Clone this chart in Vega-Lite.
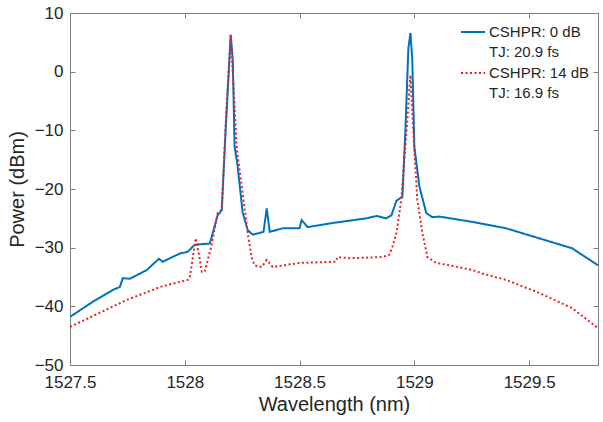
{
  "$schema": "https://vega.github.io/schema/vega-lite/v6.json",
  "width": 528,
  "height": 352,
  "autosize": {"type": "none"},
  "padding": {"left": 70, "top": 13, "right": 5, "bottom": 57},
  "background": "white",
  "config": {
    "font": "Liberation Sans",
    "view": {"stroke": "#7f7f7f", "strokeWidth": 1},
    "style": {"guide-label": {"lineHeight": 20}},
    "axis": {
      "grid": false,
      "domainColor": "#7f7f7f",
      "tickColor": "#7f7f7f",
      "tickSize": -5,
      "labelColor": "#262626",
      "titleColor": "#262626",
      "labelFont": "Liberation Sans",
      "titleFont": "Liberation Sans",
      "labelFontSize": 17,
      "titleFontSize": 20,
      "titleFontWeight": "normal"
    },
    "legend": {
      "labelFont": "Liberation Sans",
      "labelFontSize": 15,
      "labelColor": "#262626"
    }
  },
  "data": {
    "values": [
      {"s": "CSHPR: 0 dB|TJ: 20.9 fs", "wl": 1527.500, "p": -41.8},
      {"s": "CSHPR: 0 dB|TJ: 20.9 fs", "wl": 1527.600, "p": -39.2},
      {"s": "CSHPR: 0 dB|TJ: 20.9 fs", "wl": 1527.687, "p": -37.2},
      {"s": "CSHPR: 0 dB|TJ: 20.9 fs", "wl": 1527.717, "p": -36.7},
      {"s": "CSHPR: 0 dB|TJ: 20.9 fs", "wl": 1527.730, "p": -35.2},
      {"s": "CSHPR: 0 dB|TJ: 20.9 fs", "wl": 1527.761, "p": -35.3},
      {"s": "CSHPR: 0 dB|TJ: 20.9 fs", "wl": 1527.835, "p": -33.8},
      {"s": "CSHPR: 0 dB|TJ: 20.9 fs", "wl": 1527.887, "p": -31.9},
      {"s": "CSHPR: 0 dB|TJ: 20.9 fs", "wl": 1527.904, "p": -32.4},
      {"s": "CSHPR: 0 dB|TJ: 20.9 fs", "wl": 1527.978, "p": -31.0},
      {"s": "CSHPR: 0 dB|TJ: 20.9 fs", "wl": 1528.013, "p": -30.7},
      {"s": "CSHPR: 0 dB|TJ: 20.9 fs", "wl": 1528.043, "p": -29.5},
      {"s": "CSHPR: 0 dB|TJ: 20.9 fs", "wl": 1528.109, "p": -29.3},
      {"s": "CSHPR: 0 dB|TJ: 20.9 fs", "wl": 1528.143, "p": -24.5},
      {"s": "CSHPR: 0 dB|TJ: 20.9 fs", "wl": 1528.161, "p": -23.6},
      {"s": "CSHPR: 0 dB|TJ: 20.9 fs", "wl": 1528.178, "p": -10.0},
      {"s": "CSHPR: 0 dB|TJ: 20.9 fs", "wl": 1528.200, "p": 6.3},
      {"s": "CSHPR: 0 dB|TJ: 20.9 fs", "wl": 1528.209, "p": 2.0},
      {"s": "CSHPR: 0 dB|TJ: 20.9 fs", "wl": 1528.217, "p": -12.8},
      {"s": "CSHPR: 0 dB|TJ: 20.9 fs", "wl": 1528.230, "p": -16.0},
      {"s": "CSHPR: 0 dB|TJ: 20.9 fs", "wl": 1528.252, "p": -24.0},
      {"s": "CSHPR: 0 dB|TJ: 20.9 fs", "wl": 1528.274, "p": -27.0},
      {"s": "CSHPR: 0 dB|TJ: 20.9 fs", "wl": 1528.296, "p": -27.8},
      {"s": "CSHPR: 0 dB|TJ: 20.9 fs", "wl": 1528.326, "p": -27.5},
      {"s": "CSHPR: 0 dB|TJ: 20.9 fs", "wl": 1528.343, "p": -27.3},
      {"s": "CSHPR: 0 dB|TJ: 20.9 fs", "wl": 1528.357, "p": -23.3},
      {"s": "CSHPR: 0 dB|TJ: 20.9 fs", "wl": 1528.370, "p": -27.3},
      {"s": "CSHPR: 0 dB|TJ: 20.9 fs", "wl": 1528.426, "p": -26.7},
      {"s": "CSHPR: 0 dB|TJ: 20.9 fs", "wl": 1528.500, "p": -26.7},
      {"s": "CSHPR: 0 dB|TJ: 20.9 fs", "wl": 1528.509, "p": -25.3},
      {"s": "CSHPR: 0 dB|TJ: 20.9 fs", "wl": 1528.535, "p": -26.5},
      {"s": "CSHPR: 0 dB|TJ: 20.9 fs", "wl": 1528.643, "p": -25.8},
      {"s": "CSHPR: 0 dB|TJ: 20.9 fs", "wl": 1528.791, "p": -25.0},
      {"s": "CSHPR: 0 dB|TJ: 20.9 fs", "wl": 1528.835, "p": -24.6},
      {"s": "CSHPR: 0 dB|TJ: 20.9 fs", "wl": 1528.878, "p": -25.0},
      {"s": "CSHPR: 0 dB|TJ: 20.9 fs", "wl": 1528.900, "p": -24.5},
      {"s": "CSHPR: 0 dB|TJ: 20.9 fs", "wl": 1528.922, "p": -22.0},
      {"s": "CSHPR: 0 dB|TJ: 20.9 fs", "wl": 1528.948, "p": -21.3},
      {"s": "CSHPR: 0 dB|TJ: 20.9 fs", "wl": 1528.961, "p": -10.0},
      {"s": "CSHPR: 0 dB|TJ: 20.9 fs", "wl": 1528.974, "p": 4.0},
      {"s": "CSHPR: 0 dB|TJ: 20.9 fs", "wl": 1528.983, "p": 6.6},
      {"s": "CSHPR: 0 dB|TJ: 20.9 fs", "wl": 1528.991, "p": 2.0},
      {"s": "CSHPR: 0 dB|TJ: 20.9 fs", "wl": 1529.000, "p": -12.8},
      {"s": "CSHPR: 0 dB|TJ: 20.9 fs", "wl": 1529.022, "p": -19.6},
      {"s": "CSHPR: 0 dB|TJ: 20.9 fs", "wl": 1529.052, "p": -24.1},
      {"s": "CSHPR: 0 dB|TJ: 20.9 fs", "wl": 1529.078, "p": -24.8},
      {"s": "CSHPR: 0 dB|TJ: 20.9 fs", "wl": 1529.109, "p": -24.7},
      {"s": "CSHPR: 0 dB|TJ: 20.9 fs", "wl": 1529.252, "p": -25.6},
      {"s": "CSHPR: 0 dB|TJ: 20.9 fs", "wl": 1529.400, "p": -26.7},
      {"s": "CSHPR: 0 dB|TJ: 20.9 fs", "wl": 1529.543, "p": -28.4},
      {"s": "CSHPR: 0 dB|TJ: 20.9 fs", "wl": 1529.687, "p": -30.1},
      {"s": "CSHPR: 0 dB|TJ: 20.9 fs", "wl": 1529.800, "p": -33.0},
      {"s": "CSHPR: 14 dB|TJ: 16.9 fs", "wl": 1527.500, "p": -43.5},
      {"s": "CSHPR: 14 dB|TJ: 16.9 fs", "wl": 1527.748, "p": -38.9},
      {"s": "CSHPR: 14 dB|TJ: 16.9 fs", "wl": 1527.900, "p": -36.6},
      {"s": "CSHPR: 14 dB|TJ: 16.9 fs", "wl": 1528.013, "p": -35.5},
      {"s": "CSHPR: 14 dB|TJ: 16.9 fs", "wl": 1528.022, "p": -35.0},
      {"s": "CSHPR: 14 dB|TJ: 16.9 fs", "wl": 1528.048, "p": -28.4},
      {"s": "CSHPR: 14 dB|TJ: 16.9 fs", "wl": 1528.061, "p": -31.0},
      {"s": "CSHPR: 14 dB|TJ: 16.9 fs", "wl": 1528.074, "p": -34.1},
      {"s": "CSHPR: 14 dB|TJ: 16.9 fs", "wl": 1528.087, "p": -34.1},
      {"s": "CSHPR: 14 dB|TJ: 16.9 fs", "wl": 1528.117, "p": -29.5},
      {"s": "CSHPR: 14 dB|TJ: 16.9 fs", "wl": 1528.143, "p": -24.1},
      {"s": "CSHPR: 14 dB|TJ: 16.9 fs", "wl": 1528.161, "p": -23.6},
      {"s": "CSHPR: 14 dB|TJ: 16.9 fs", "wl": 1528.178, "p": -9.0},
      {"s": "CSHPR: 14 dB|TJ: 16.9 fs", "wl": 1528.200, "p": 6.2},
      {"s": "CSHPR: 14 dB|TJ: 16.9 fs", "wl": 1528.213, "p": -3.0},
      {"s": "CSHPR: 14 dB|TJ: 16.9 fs", "wl": 1528.226, "p": -13.0},
      {"s": "CSHPR: 14 dB|TJ: 16.9 fs", "wl": 1528.248, "p": -19.5},
      {"s": "CSHPR: 14 dB|TJ: 16.9 fs", "wl": 1528.274, "p": -27.5},
      {"s": "CSHPR: 14 dB|TJ: 16.9 fs", "wl": 1528.291, "p": -31.6},
      {"s": "CSHPR: 14 dB|TJ: 16.9 fs", "wl": 1528.304, "p": -33.0},
      {"s": "CSHPR: 14 dB|TJ: 16.9 fs", "wl": 1528.335, "p": -33.3},
      {"s": "CSHPR: 14 dB|TJ: 16.9 fs", "wl": 1528.357, "p": -32.1},
      {"s": "CSHPR: 14 dB|TJ: 16.9 fs", "wl": 1528.383, "p": -33.3},
      {"s": "CSHPR: 14 dB|TJ: 16.9 fs", "wl": 1528.500, "p": -32.6},
      {"s": "CSHPR: 14 dB|TJ: 16.9 fs", "wl": 1528.657, "p": -32.4},
      {"s": "CSHPR: 14 dB|TJ: 16.9 fs", "wl": 1528.665, "p": -31.6},
      {"s": "CSHPR: 14 dB|TJ: 16.9 fs", "wl": 1528.717, "p": -31.8},
      {"s": "CSHPR: 14 dB|TJ: 16.9 fs", "wl": 1528.861, "p": -31.6},
      {"s": "CSHPR: 14 dB|TJ: 16.9 fs", "wl": 1528.891, "p": -31.2},
      {"s": "CSHPR: 14 dB|TJ: 16.9 fs", "wl": 1528.904, "p": -29.9},
      {"s": "CSHPR: 14 dB|TJ: 16.9 fs", "wl": 1528.922, "p": -27.5},
      {"s": "CSHPR: 14 dB|TJ: 16.9 fs", "wl": 1528.943, "p": -21.9},
      {"s": "CSHPR: 14 dB|TJ: 16.9 fs", "wl": 1528.965, "p": -10.5},
      {"s": "CSHPR: 14 dB|TJ: 16.9 fs", "wl": 1528.983, "p": -0.6},
      {"s": "CSHPR: 14 dB|TJ: 16.9 fs", "wl": 1529.000, "p": -13.4},
      {"s": "CSHPR: 14 dB|TJ: 16.9 fs", "wl": 1529.013, "p": -21.9},
      {"s": "CSHPR: 14 dB|TJ: 16.9 fs", "wl": 1529.035, "p": -27.5},
      {"s": "CSHPR: 14 dB|TJ: 16.9 fs", "wl": 1529.057, "p": -31.6},
      {"s": "CSHPR: 14 dB|TJ: 16.9 fs", "wl": 1529.096, "p": -32.6},
      {"s": "CSHPR: 14 dB|TJ: 16.9 fs", "wl": 1529.152, "p": -33.0},
      {"s": "CSHPR: 14 dB|TJ: 16.9 fs", "wl": 1529.252, "p": -33.8},
      {"s": "CSHPR: 14 dB|TJ: 16.9 fs", "wl": 1529.296, "p": -34.4},
      {"s": "CSHPR: 14 dB|TJ: 16.9 fs", "wl": 1529.400, "p": -35.5},
      {"s": "CSHPR: 14 dB|TJ: 16.9 fs", "wl": 1529.543, "p": -37.7},
      {"s": "CSHPR: 14 dB|TJ: 16.9 fs", "wl": 1529.687, "p": -40.3},
      {"s": "CSHPR: 14 dB|TJ: 16.9 fs", "wl": 1529.800, "p": -43.7}
    ]
  },
  "layer": [
    {
      "mark": {"type": "line", "strokeWidth": 2, "clip": true},
      "encoding": {
        "x": {
          "field": "wl", "type": "quantitative",
          "scale": {"domain": [1527.5, 1529.8], "nice": false, "zero": false},
          "axis": {"orient": "bottom", "title": "Wavelength (nm)", "format": "~g", "values": [1527.5, 1528, 1528.5, 1529, 1529.5], "labelPadding": 14, "titlePadding": 4, "labelFlush": false}
        },
        "y": {
          "field": "p", "type": "quantitative",
          "scale": {"domain": [-50, 10], "nice": false},
          "axis": {"orient": "left", "title": "Power (dBm)", "values": [-50, -40, -30, -20, -10, 0, 10], "labelPadding": 12, "titlePadding": 7}
        },
        "color": {
          "field": "s", "type": "nominal",
          "scale": {"domain": ["CSHPR: 0 dB|TJ: 20.9 fs", "CSHPR: 14 dB|TJ: 16.9 fs"], "range": ["#0072BD", "#e8202a"]},
          "legend": {
            "title": null,
            "orient": "none",
            "legendX": 390,
            "legendY": 6,
            "symbolType": "stroke",
            "symbolSize": 576,
            "symbolStrokeWidth": 2,
            "labelOffset": 3,
            "labelLimit": 300,
            "rowPadding": 0,
            "labelExpr": "split(datum.label, '|')"
          }
        },
        "strokeDash": {
          "field": "s", "type": "nominal",
          "scale": {"domain": ["CSHPR: 0 dB|TJ: 20.9 fs", "CSHPR: 14 dB|TJ: 16.9 fs"], "range": [[1, 0], [2, 2.5]]},
          "legend": {
            "title": null,
            "orient": "none",
            "legendX": 390,
            "legendY": 6,
            "symbolType": "stroke",
            "symbolSize": 576,
            "symbolStrokeWidth": 2,
            "labelOffset": 3,
            "labelLimit": 300,
            "rowPadding": 0,
            "labelExpr": "split(datum.label, '|')"
          }
        }
      }
    },
    {
      "mark": {"type": "line", "opacity": 0},
      "encoding": {
        "x": {
          "field": "wl", "type": "quantitative",
          "scale": {"domain": [1527.5, 1529.8], "nice": false, "zero": false},
          "axis": {"orient": "top", "title": null, "labels": false, "values": [1527.5, 1528, 1528.5, 1529, 1529.5]}
        },
        "y": {
          "field": "p", "type": "quantitative",
          "scale": {"domain": [-50, 10], "nice": false},
          "axis": {"orient": "right", "title": null, "labels": false, "values": [-50, -40, -30, -20, -10, 0, 10]}
        },
        "detail": {"field": "s", "type": "nominal"}
      }
    }
  ],
  "resolve": {"axis": {"x": "independent", "y": "independent"}}
}
